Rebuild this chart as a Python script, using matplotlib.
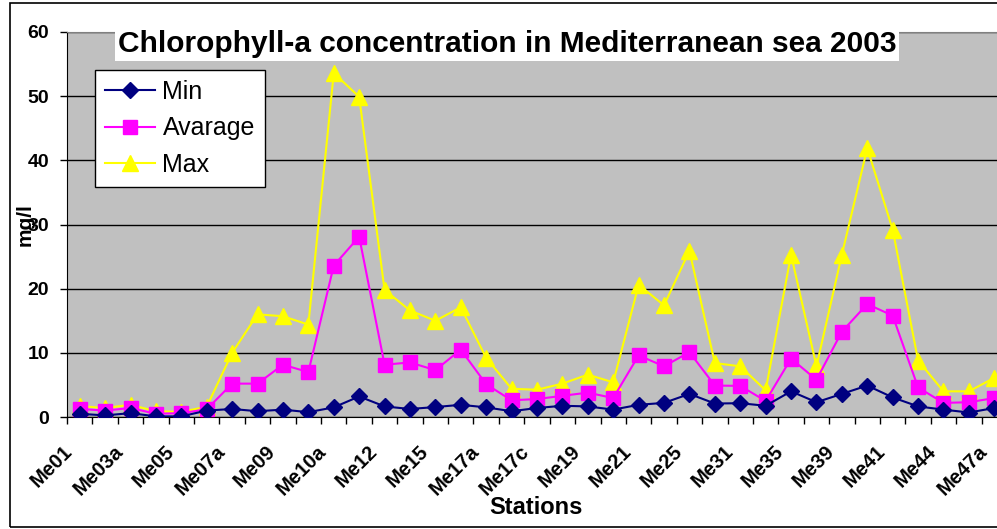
import numpy as np
import matplotlib
matplotlib.use('Agg')
import matplotlib.pyplot as plt
from matplotlib.patches import Rectangle
from matplotlib.transforms import ScaledTranslation

# Stationen, nur jede zweite ist beschriftet
labels = ['Me01', 'Me03a', 'Me05', 'Me07a', 'Me09', 'Me10a', 'Me12', 'Me15', 'Me17a', 'Me17c',
          'Me19', 'Me21', 'Me25', 'Me31', 'Me35', 'Me39', 'Me41', 'Me44', 'Me47a']

min_vals = [0.5, 0.25, 0.6, 0.1, 0.1, 1.0, 1.25, 0.9, 1.15, 0.75, 1.5, 3.2, 1.65,
            1.25, 1.55, 1.9, 1.5, 0.9, 1.4, 1.75, 1.65, 1.15, 1.9, 2.2, 3.6,
            2.1, 2.15, 1.75, 4.0, 2.3, 3.6, 4.9, 3.05, 1.65, 1.15, 0.7, 1.4]
avg_vals = [1.25, 1.0, 1.4, 0.5, 0.6, 1.2, 5.2, 5.2, 8.15, 7.0, 23.6, 28.1, 8.15,
            8.5, 7.3, 10.5, 5.1, 2.6, 2.8, 3.3, 3.8, 2.95, 9.6, 7.9, 10.1,
            4.9, 4.85, 2.5, 9.1, 5.8, 13.3, 17.6, 15.8, 4.6, 2.2, 2.3, 2.95]
max_vals = [1.7, 1.4, 1.9, 0.9, 0.8, 1.6, 10.0, 16.0, 15.7, 14.4, 53.6, 49.9, 19.8,
            16.6, 15.0, 17.1, 9.2, 4.4, 4.25, 5.2, 6.6, 5.4, 20.6, 17.4, 25.9,
            8.4, 7.9, 4.15, 25.3, 7.9, 25.3, 41.9, 29.2, 8.8, 4.0, 4.0, 6.1]

plt.rcParams['font.family'] = ['Liberation Sans', 'DejaVu Sans']

n = len(min_vals)
x = np.arange(n)

fig = plt.figure(figsize=(9.97, 5.29), dpi=100)
ax = fig.add_axes([67/997, 112/529, 940/997, 385/529])
ax.set_facecolor('#c0c0c0')

ax.plot(x, min_vals, color='#000080', marker='D', ms=8, mfc='#000080', mec='#000080', lw=1.5, label='Min', zorder=4)
ax.plot(x, avg_vals, color='#ff00ff', marker='s', ms=10, mfc='#ff00ff', mec='#ff00ff', lw=1.5, label='Avarage', zorder=3)
ax.plot(x, max_vals, color='#ffff00', marker='^', ms=11, mfc='#ffff00', mec='#ffff00', lw=1.5, label='Max', zorder=2)

ax.set_xlim(-0.5, n - 0.5)
ax.set_ylim(0, 60)
ax.set_yticks(np.arange(0, 61, 10))
ax.yaxis.grid(True, color='black', lw=1)
ax.set_axisbelow(True)

# Striche an den Grenzen, Beschriftung an jedem zweiten Punkt
ax.set_xticks(np.arange(-0.5, n, 1.0))
ax.set_xticklabels([])
ax.set_xticks(np.arange(0, n, 2), minor=True)
ax.set_xticklabels(labels, minor=True, rotation=45, ha='right', rotation_mode='anchor',
                   fontsize=14.5, fontweight='bold')
ax.tick_params(axis='x', which='major', direction='out', length=5, width=1, color='black')
ax.tick_params(axis='x', which='minor', length=0, pad=18)
ax.tick_params(axis='y', direction='out', length=5, width=1, labelsize=14, pad=8)
for t in ax.get_yticklabels():
    t.set_fontweight('bold')
# Beschriftung etwas nach links schieben (wie im Original)
shift = ScaledTranslation(-17/100, 0, fig.dpi_scale_trans)
for t in ax.get_xticklabels(minor=True):
    t.set_transform(t.get_transform() + shift)

ax.spines['top'].set_color('#808080')
ax.spines['right'].set_visible(False)
ax.spines['left'].set_color('black')
ax.spines['bottom'].set_color('black')

ax.set_xlabel('Stations', fontsize=17, fontweight='bold')
ax.xaxis.set_label_coords(536/940 - 67/940, (417 - 496)/385)
ax.set_ylabel('mg/l', fontsize=15, fontweight='bold')
ax.yaxis.set_label_coords((35 - 67)/940, 0.5)

leg = ax.legend(loc='upper left', bbox_to_anchor=(95/997, 1 - 70/529), bbox_transform=fig.transFigure,
                fontsize=18, frameon=True, fancybox=False, edgecolor='black', framealpha=1,
                handlelength=2.0, borderaxespad=0, borderpad=0.4, labelspacing=0.5, handletextpad=0.3)
leg.get_frame().set_linewidth(1)

fig.text(507/997, 1 - 44/529, 'Chlorophyll-a concentration in Mediterranean sea 2003',
         ha='center', va='center', fontsize=21.5, fontweight='bold', zorder=10,
         bbox=dict(facecolor='white', edgecolor='none', boxstyle='square,pad=0.1'))

fig.patches.append(Rectangle((10/997, 2/529), 1.2, 1 - 5/529, transform=fig.transFigure,
                             fill=False, edgecolor='black', lw=1.2))

fig.savefig('out.png', dpi=100)
